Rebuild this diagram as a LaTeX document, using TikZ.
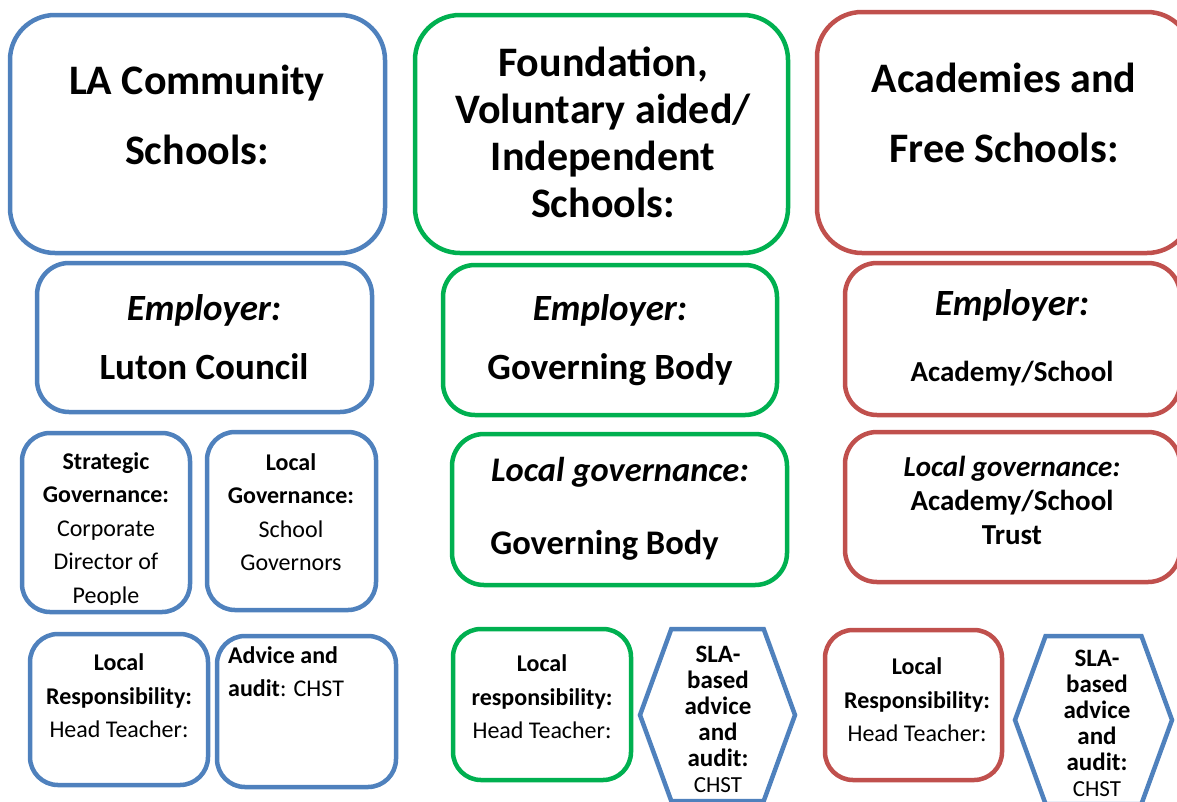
\documentclass[tikz,border=0pt]{standalone}
\usepackage{fontspec}
\setmainfont{Carlito}
\usetikzlibrary{shapes.symbols}
\definecolor{lablue}{HTML}{4F81BD}
\definecolor{fvgreen}{HTML}{00B050}
\definecolor{afred}{HTML}{C0504D}

\begin{document}
\begin{tikzpicture}
    [x=1pt,y=-1pt,inner sep=0pt,
     bigbox/.style={draw,line width=4.5pt,rounded corners=45pt},
     midbox/.style={draw,line width=4.5pt,rounded corners=32pt},
     smallbox/.style={draw,line width=4.5pt,rounded corners=28pt},
     hexbox/.style={draw=lablue,line width=4.5pt,signal,signal to=west and east,
                    signal pointer angle=140},
     hdr/.style={align=center,font=\fontsize{42}{70}\selectfont\bfseries},
     emp/.style={align=center,font=\fontsize{37}{59}\selectfont\bfseries},
     lbl/.style={align=center,font=\fontsize{24}{33.5}\selectfont},
     hexlbl/.style={align=center,font=\fontsize{25}{26}\selectfont}]
    \clip (0,0) rectangle (1177,801);
    % LA community schools
    \node (latitle) at (197.5,134)   [bigbox,draw=lablue,minimum width=375pt,minimum height=238pt] {};
    \node (laemp)   at (204.5,337.5) [midbox,draw=lablue,minimum width=335pt,minimum height=149pt] {};
    \node (lastrat) at (106,522.5)   [smallbox,draw=lablue,minimum width=168pt,minimum height=179pt] {};
    \node (lagov)   at (291.5,521)   [smallbox,draw=lablue,minimum width=169pt,minimum height=178pt] {};
    \node (laresp)  at (119,709.5)   [smallbox,draw=lablue,minimum width=178pt,minimum height=151pt] {};
    \node (laaudit) at (306.5,711.5) [smallbox,draw=lablue,minimum width=179pt,minimum height=151pt] {};
    \node (latitletxt) at (197,115) [hdr] {LA Community\\Schools:};
    \node (laemptxt)   at (204,337) [emp] {\textit{Employer:}\\Luton Council};
    \begin{scope}
      \clip (22,433) rectangle (190,604);
      \node (lastrattxt) at (106,530) [lbl] {\textbf{Strategic}\\\textbf{Governance:}\\Corporate\\Director of\\People};
    \end{scope}
    \node (lagovtxt)   at (291,512) [lbl] {\textbf{Local}\\\textbf{Governance:}\\School\\Governors};
    \node (larestxt)   at (119,696) [lbl] {\textbf{Local}\\\textbf{Responsibility:}\\Head Teacher:};
    \node (laaudittxt) at (228,646) [lbl,align=left,anchor=north west] {\textbf{Advice and}\\\textbf{audit}: CHST};
    % foundation / voluntary aided
    \node (fvtitle) at (601.5,134) [bigbox,draw=fvgreen,minimum width=373pt,minimum height=238pt] {};
    \node (fvemp)   at (610,340)   [midbox,draw=fvgreen,minimum width=334pt,minimum height=150pt] {};
    \node (fvgov)   at (619.5,509.5) [midbox,draw=fvgreen,minimum width=335pt,minimum height=151pt] {};
    \node (fvresp)  at (542,704.5) [smallbox,draw=fvgreen,minimum width=178pt,minimum height=151pt] {};
    \node (fvsla)   at (717.5,715) [hexbox,minimum width=155pt,minimum height=172pt] {};
    \node (fvtitletxt) at (603,132) [hdr,font=\fontsize{42}{47}\selectfont\bfseries] {Foundation,\\Voluntary aided/\\Independent\\Schools:};
    \node (fvemptxt)   at (610,340) [emp] {\textit{Employer:}\\Governing Body};
    \node (fvgovtxt)   at (620,509) [emp,font=\fontsize{34.5}{73}\selectfont\bfseries] {\textit{Local governance:}\\Governing Body\hspace*{31pt}};
    \node (fvrestxt)   at (542,697) [lbl] {\textbf{Local}\\\textbf{responsibility:}\\Head Teacher:};
    \node (fvslatxt)   at (718,719) [hexlbl] {\textbf{SLA-}\\\textbf{based}\\\textbf{advice}\\\textbf{and}\\\textbf{audit:}\\{\fontsize{23}{26}\selectfont CHST}};
    % academies and free schools
    \node (aftitle) at (1004.5,132.5) [bigbox,draw=afred,minimum width=375pt,minimum height=241pt] {};
    \node (afemp)   at (1012.5,339)   [midbox,draw=afred,minimum width=335pt,minimum height=152pt] {};
    \node (afgov)   at (1012.5,507)   [midbox,draw=afred,minimum width=335pt,minimum height=150pt] {};
    \node (afresp)  at (913.5,705)    [smallbox,draw=afred,minimum width=177pt,minimum height=150pt] {};
    \node (afsla)   at (1093.5,720)   [hexbox,minimum width=157pt,minimum height=168pt] {};
    \node (aftitletxt) at (1004,113) [hdr] {Academies and\\Free Schools:};
    \node (afemptxt)   at (1012,338) [emp,font=\fontsize{29}{40}\selectfont\bfseries] {{\fontsize{37}{44}\selectfont\textit{Employer:}}\\[26pt]Academy/School};
    \node (afgovtxt)   at (1012,500) [emp,font=\fontsize{29}{34}\selectfont\bfseries] {\textit{Local governance:}\\Academy/School\\Trust};
    \node (afrestxt)   at (917,700)  [lbl] {\textbf{Local}\\\textbf{Responsibility:}\\Head Teacher:};
    \node (afslatxt)   at (1097,723) [hexlbl] {\textbf{SLA-}\\\textbf{based}\\\textbf{advice}\\\textbf{and}\\\textbf{audit:}\\{\fontsize{23}{26}\selectfont CHST}};
\end{tikzpicture}
\end{document}
